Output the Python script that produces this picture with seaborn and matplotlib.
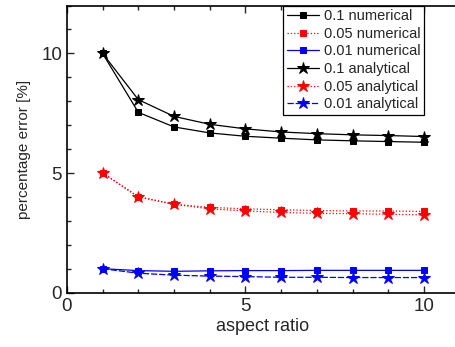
import numpy as np
import pandas as pd
import matplotlib
matplotlib.use("Agg")
import matplotlib.pyplot as plt
import seaborn as sns
from matplotlib.ticker import MultipleLocator

aspect = [1, 2, 3, 4, 5, 6, 7, 8, 9, 10]

num_01 = [10.0, 7.54, 6.93, 6.68, 6.54, 6.46, 6.39, 6.35, 6.32, 6.29]
num_005 = [5.01, 4.01, 3.70, 3.57, 3.51, 3.47, 3.44, 3.42, 3.42, 3.40]
num_001 = [1.01, 0.93, 0.90, 0.92, 0.93, 0.93, 0.94, 0.94, 0.94, 0.94]
ana_01 = [10.0, 8.07, 7.37, 7.04, 6.85, 6.72, 6.65, 6.60, 6.57, 6.53]
ana_005 = [5.01, 4.01, 3.70, 3.51, 3.42, 3.36, 3.32, 3.31, 3.28, 3.26]
ana_001 = [1.01, 0.82, 0.74, 0.70, 0.68, 0.65, 0.65, 0.64, 0.64, 0.64]

sns.set_style("ticks")
plt.rcParams['font.family'] = ['Liberation Sans', 'DejaVu Sans']

fig = plt.figure(figsize=(4.55, 3.47), dpi=100)
# right edge runs off the picture, as in the original crop
ax = fig.add_axes([0.147, 0.156, 0.862, 0.828])

series = [
    (num_01, '0.1 numerical', 'black', '-', 's', 4),
    (num_005, '0.05 numerical', '#ff0000', ':', 's', 4),
    (num_001, '0.01 numerical', '#0000ff', '-', 's', 4),
    (ana_01, '0.1 analytical', 'black', '-', '*', 9),
    (ana_005, '0.05 analytical', '#ff0000', ':', '*', 9),
    (ana_001, '0.01 analytical', '#0000ff', (0, (5, 1.5)), '*', 9),
]

for vals, lab, col, ls, mk, ms in series:
    df = pd.DataFrame({'x': aspect, 'y': vals})
    sns.lineplot(data=df, x='x', y='y', ax=ax, color=col, linestyle=ls,
                 marker=mk, markersize=ms, markeredgecolor=col,
                 linewidth=0.9, label=lab)

ax.set_xlim(0, 10.98)
ax.set_ylim(0, 12)
ax.xaxis.set_major_locator(MultipleLocator(5))
ax.xaxis.set_minor_locator(MultipleLocator(1))
ax.yaxis.set_major_locator(MultipleLocator(5))
ax.yaxis.set_minor_locator(MultipleLocator(1))
ax.tick_params(which='both', direction='in', top=True, right=False,
               labelsize=13.5, width=1)
ax.tick_params(which='major', length=5)
ax.tick_params(which='minor', length=3)
for s in ax.spines.values():
    s.set_linewidth(1.2)
    s.set_color('black')
ax.spines['right'].set_visible(False)

ax.set_xlabel('aspect ratio', fontsize=13, labelpad=2)
ax.set_ylabel('percentage error [%]', fontsize=11, labelpad=7)

leg = ax.legend(loc='upper right', bbox_to_anchor=(0.91, 1.0),
                borderaxespad=0, fontsize=10.5, frameon=True, fancybox=False,
                edgecolor='black', framealpha=1, handlelength=2.2,
                handletextpad=0.3, labelspacing=0.25, borderpad=0.25)
leg.get_frame().set_linewidth(0.9)

fig.savefig('out.png', dpi=100)
